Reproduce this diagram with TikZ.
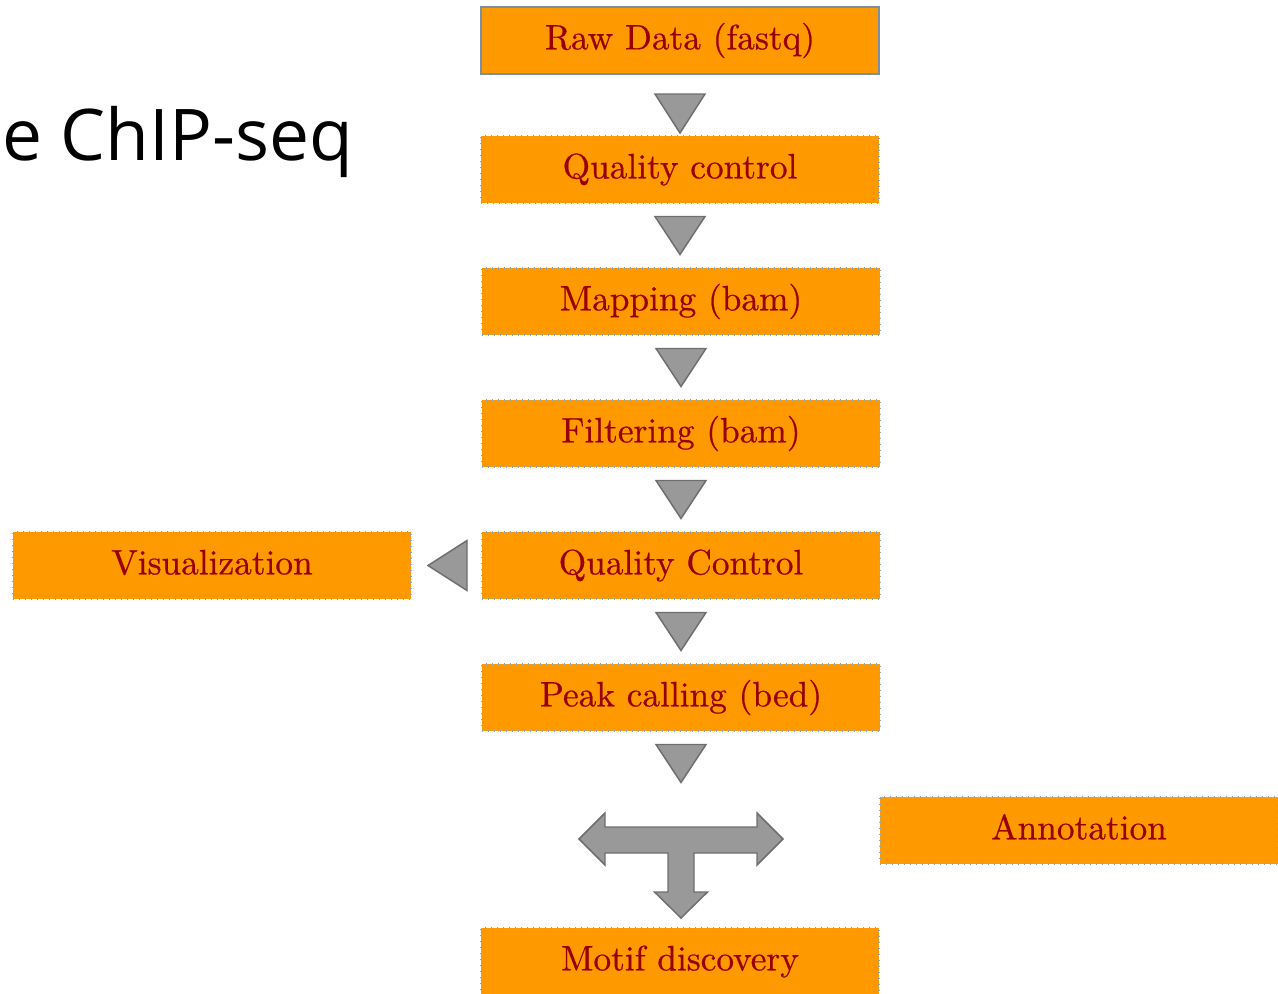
\documentclass[tikz,border=0pt]{standalone}
\usepackage{fontspec}
\newfontfamily\titlefont{Open Sans}
\newfontfamily\boxfont{lmroman10-regular.otf}[FakeBold=0.6]
\usetikzlibrary{calc}
\definecolor{boxfill}{HTML}{FF9900}
\definecolor{boxtext}{HTML}{990000}
\definecolor{boxedge}{HTML}{8AA3BA}
\definecolor{topedge}{HTML}{7A8FA2}
\definecolor{arrowfill}{HTML}{999999}
\definecolor{arrowedge}{HTML}{6E6E6E}
\tikzset{
  stepbox/.style={rectangle, fill=boxfill, draw=boxedge, line width=0.9pt,
    dash pattern=on 0.9pt off 3.6pt,
    minimum width=298.5pt, minimum height=50.25pt, inner sep=0pt, outer sep=0pt,
    text=boxtext, font=\boxfont\fontsize{26.5}{31}\selectfont,
    text height=19.9pt, text depth=6.6pt},
  firstbox/.style={stepbox, solid, draw=topedge, line width=1.1pt},
  flowarrow/.style={fill=arrowfill, draw=arrowedge, line width=1.1pt, line join=miter}
}
\begin{document}
\begin{tikzpicture}[x=0.75pt, y=-0.75pt]
\useasboundingbox (0,0) rectangle (1278,993);
\clip (0,0) rectangle (1278,993);

% page title, cut at the left edge
\node[anchor=base west, inner sep=0pt, font=\titlefont\fontsize{53.5}{60}\selectfont]
  (title) at (2,160) {e ChIP-seq};

% processing steps
\node[firstbox] (raw)   at (680,40.5)  {Raw Data (fastq)};
\node[stepbox]  (qc1)   at (680,169.5) {Quality control};
\node[stepbox]  (map)   at (681,301.5) {Mapping (bam)};
\node[stepbox]  (filt)  at (681,433.5) {Filtering (bam)};
\node[stepbox]  (qc2)   at (681,565.5) {Quality Control};
\node[stepbox]  (vis)   at (212,565.5) {Visualization};
\node[stepbox]  (peak)  at (681,697.5) {Peak calling (bed)};
\node[stepbox]  (annot) at (1079,830.5) {Annotation};
\node[stepbox]  (motif) at (680,961.5) {Motif discovery};

% downward triangles between consecutive steps
\draw[flowarrow] ($(raw.south)+(-25,20)$) -- ++(50,0) -- ++(-25,39) -- cycle;
\foreach \a in {qc1,map,filt,qc2,peak}{
  \draw[flowarrow] ($(\a.south)+(-25,13.5)$) -- ++(50,0) -- ++(-25,38) -- cycle;
}

% triangle pointing from the second quality control to visualization
\draw[flowarrow] ($(qc2.west)+(-15,-25)$) -- ++(0,50) -- ++(-39,-25) -- cycle;

% T-shaped arrow below peak calling
\draw[flowarrow] ($(peak.south)+(-102,108)$)
  -- ++(26,-26) -- ++(0,14) -- ++(152,0) -- ++(0,-14) -- ++(26,26)
  -- ++(-26,26) -- ++(0,-12) -- ++(-63,0) -- ++(0,39) -- ++(13.5,0)
  -- ++(-26.5,26) -- ++(-26.5,-26) -- ++(13.5,0) -- ++(0,-39)
  -- ++(-63,0) -- ++(0,12) -- cycle;
\end{tikzpicture}
\end{document}
